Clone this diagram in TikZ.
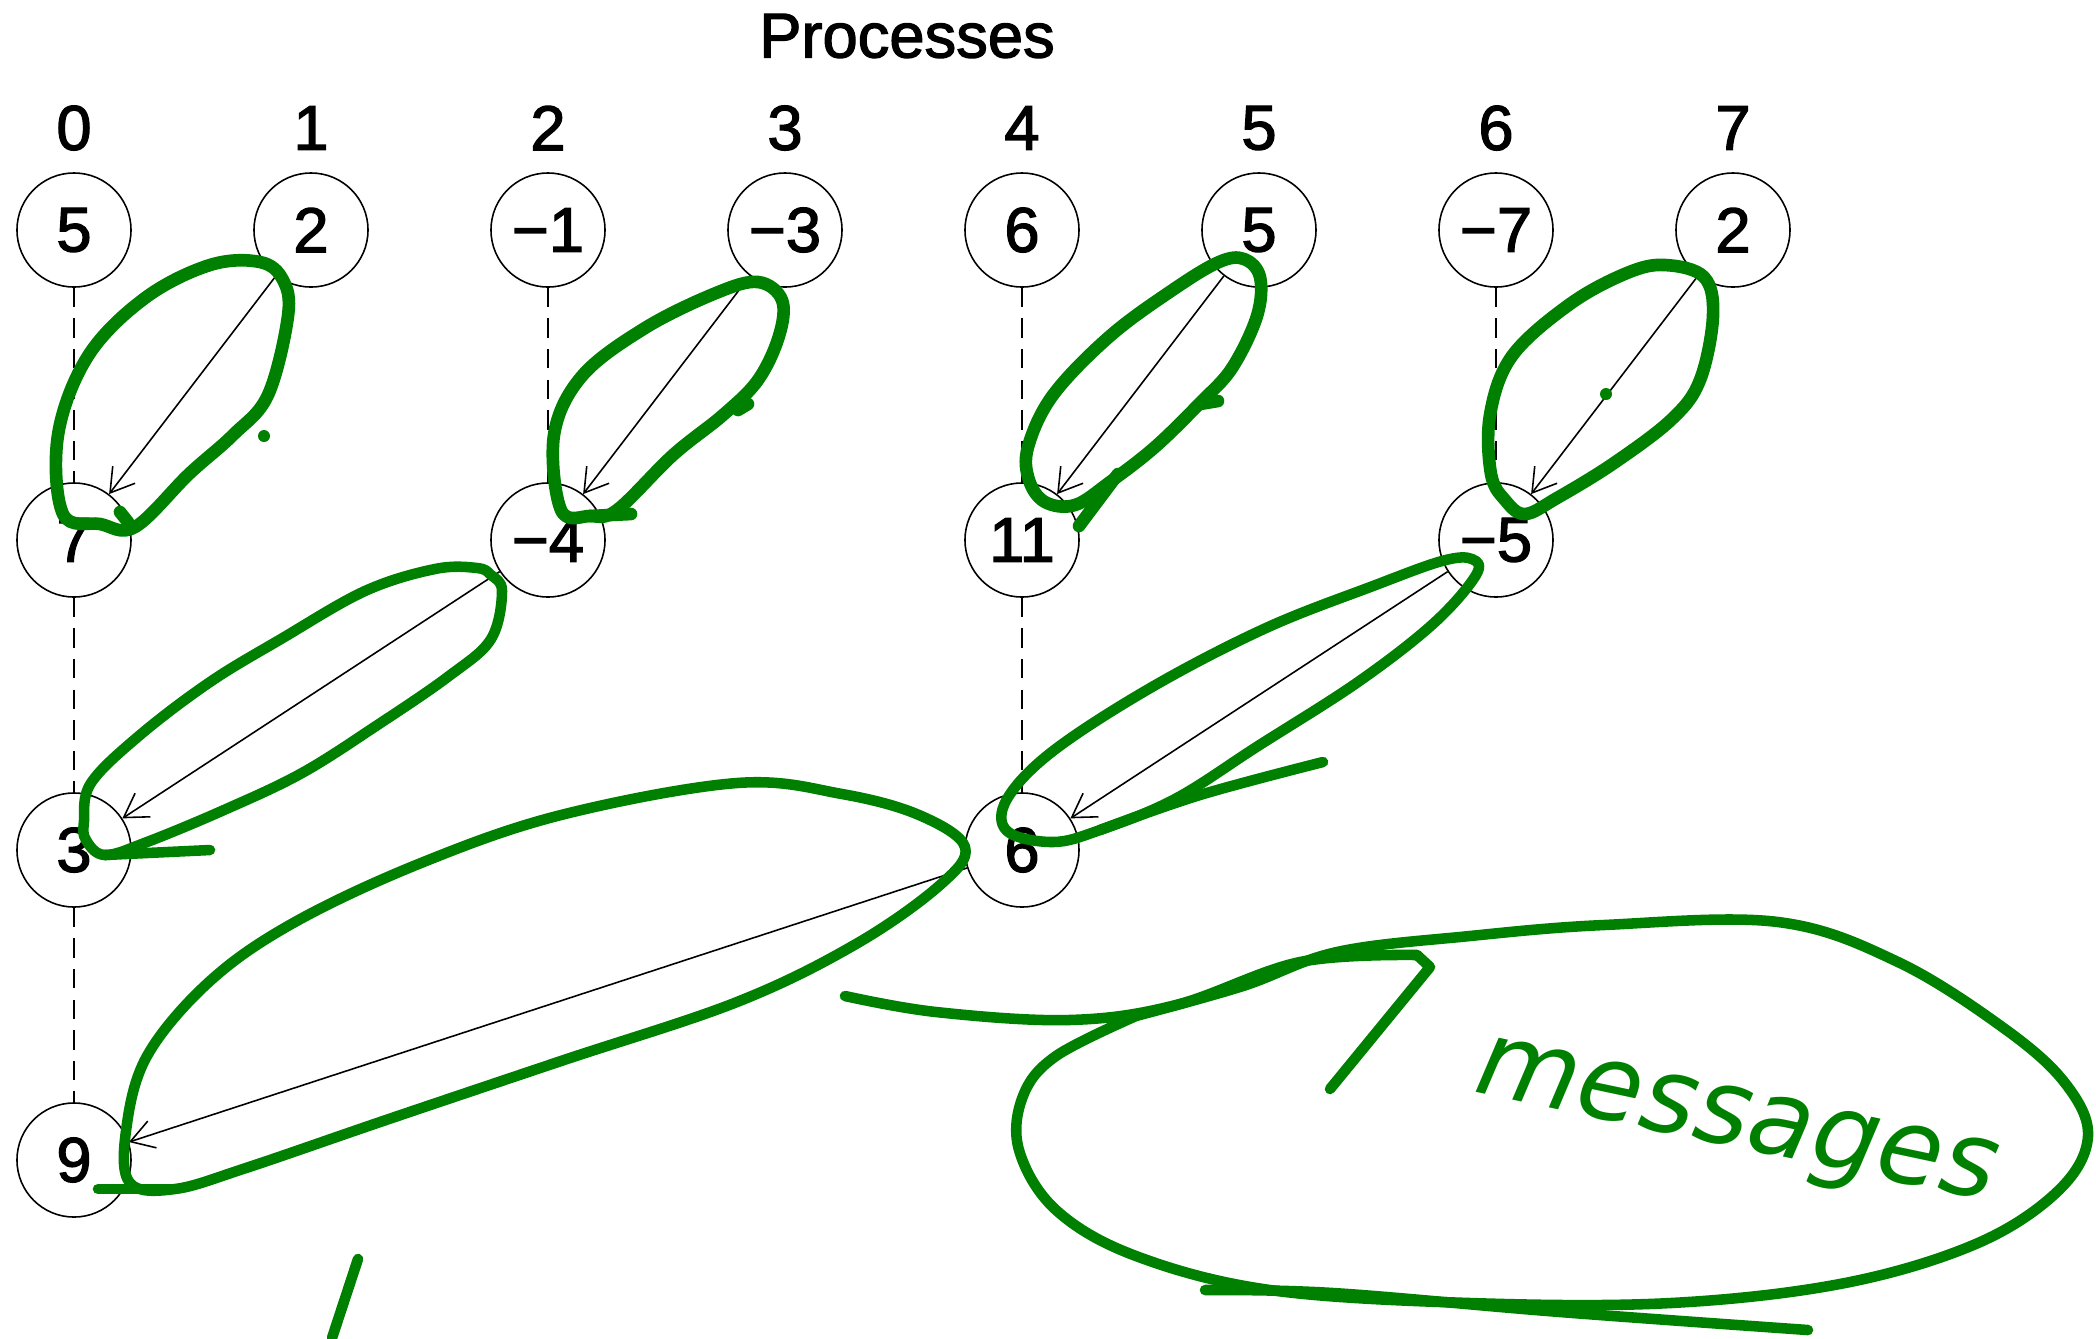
\documentclass[tikz,border=0pt]{standalone}
\usepackage{fontspec}
\setmainfont{Liberation Sans}
\newfontfamily\labfont{Liberation Sans}[FakeBold=2]
\newfontfamily\handfont{DejaVu Sans}
\usetikzlibrary{arrows.meta}
\definecolor{ink}{RGB}{0,128,0}
\begin{document}
\begin{tikzpicture}[x=0.01cm,y=-0.01cm,
  proc/.style={circle,draw,line width=0.45pt,minimum size=1.14cm,inner sep=0pt,font=\labfont\fontsize{18}{20}\selectfont},
  lbl/.style={font=\labfont\fontsize{18}{20}\selectfont,inner sep=0pt},
  wait/.style={line width=0.45pt,dash pattern=on 5.5pt off 3.2pt},
  msg/.style={line width=0.45pt,-{Straight Barb[length=6.5pt,width=8pt]}},
  hl/.style={draw=ink,line width=3.6pt,line cap=round,line join=round},
  hlthin/.style={draw=ink,line width=3pt,line cap=round,line join=round}]
\useasboundingbox (0,0) rectangle (2096,1338);
% title and process labels
\node[lbl] (title) at (907,36) {Processes};
\foreach \i in {0,...,7} {
  \node[lbl] (h\i) at ({74+237*\i},128) {\i};
}
% row 1
\node[proc] (a0) at (74,230) {5};
\node[proc] (a1) at (311,230) {2};
\node[proc] (a2) at (548,230) {−1};
\node[proc] (a3) at (785,230) {−3};
\node[proc] (a4) at (1022,230) {6};
\node[proc] (a5) at (1259,230) {5};
\node[proc] (a6) at (1496,230) {−7};
\node[proc] (a7) at (1733,230) {2};
% row 2
\node[proc] (b0) at (74,540) {7};
\node[proc] (b2) at (548,540) {−4};
\node[proc] (b4) at (1022,540) {11};
\node[proc] (b6) at (1496,540) {−5};
% row 3
\node[proc] (c0) at (74,850) {3};
\node[proc] (c4) at (1022,850) {6};
% row 4
\node[proc] (d0) at (74,1160) {9};
% dashed timelines
\draw[wait] (a0) -- (b0);
\draw[wait] (a2) -- (b2);
\draw[wait] (a4) -- (b4);
\draw[wait] (a6) -- (b6);
\draw[wait] (b0) -- (c0);
\draw[wait] (b4) -- (c4);
\draw[wait] (c0) -- (d0);
% messages
\draw[msg] (a1) -- (b0);
\draw[msg] (a3) -- (b2);
\draw[msg] (a5) -- (b4);
\draw[msg] (a7) -- (b6);
\draw[msg] (b2) -- (c0);
\draw[msg] (b6) -- (c4);
\draw[msg] (c4) -- (d0);
% green annotations
\draw[hl] plot[smooth cycle,tension=0.6] coordinates {(63,514) (58,435) (88,356) (145,298) (210,265) (260,262) (283,280) (288,316) (268,395) (233,435) (189,474) (135,527) (100,524)};
\draw[hl] (120,512) -- (128,522);
\fill[ink] (264,436) circle (6);
\draw[hl] plot[smooth cycle,tension=0.6] coordinates {(561,510) (554,435) (582,376) (645,328) (716,293) (758,282) (782,300) (779,336) (758,380) (723,415) (673,455) (617,510) (590,516)};
\draw[hl] (590,516) -- (631,514);
\draw[hl] (738,410) -- (748,404);
\draw[hl] plot[smooth cycle,tension=0.6] coordinates {(1219,262) (1244,259) (1260,277) (1257,316) (1232,368) (1200,403) (1155,447) (1110,482) (1075,505) (1045,502) (1029,480) (1028,447) (1053,395) (1110,336) (1174,289)};
\draw[hl] (1118,474) -- (1079,526);
\draw[hl] (1200,404) -- (1218,401);
\draw[hl] plot[smooth cycle,tension=0.6] coordinates {(1627,273) (1665,265) (1704,277) (1713,316) (1700,380) (1672,419) (1614,463) (1557,498) (1525,514) (1505,500) (1491,474) (1490,415) (1512,356) (1570,304)};
\fill[ink] (1606,394) circle (6);
\draw[hlthin] plot[smooth cycle,tension=0.6] coordinates {(477,568) (491,575) (502,591) (491,639) (449,676) (379,724) (302,773) (224,810) (147,842) (105,855) (86,840) (84,821) (91,783) (140,735) (210,682) (281,639) (365,591) (435,569)};
\draw[hlthin] (105,855) -- (210,850);
\draw[hlthin] plot[smooth cycle,tension=0.6] coordinates {(1442,561) (1472,559) (1476,575) (1434,623) (1358,682) (1258,746) (1175,799) (1100,830) (1053,842) (1007,831) (1007,799) (1053,751) (1152,687) (1266,628) (1373,586)};
\draw[hlthin] plot[smooth,tension=0.6] coordinates {(1100,830) (1200,795) (1323,762)};
\draw[hlthin] plot[smooth cycle,tension=0.6] coordinates {(130,1183) (126,1131) (147,1056) (210,981) (295,922) (421,863) (561,815) (737,783) (842,794) (919,815) (965,847) (940,885) (856,944) (737,1002) (561,1061) (386,1120) (246,1168) (175,1189)};
\draw[hlthin] (175,1189) -- (98,1189);
% tail into the big ellipse and hook
\draw[hlthin] plot[smooth,tension=0.6] coordinates {(845,996) (936,1012) (1069,1020) (1176,1005) (1300,962) (1417,955)};
\draw[hlthin] (1417,955) -- (1430,967) -- (1330,1089);
% big ellipse round the word
\draw[hlthin] plot[smooth,tension=0.6] coordinates {(1136,1016) (1243,986) (1337,952) (1470,936) (1604,925) (1778,922) (1898,962) (2005,1029) (2065,1083) (2088,1136) (2059,1190) (1978,1243) (1845,1283) (1671,1303) (1470,1303) (1270,1290) (1136,1256) (1056,1210) (1019,1150) (1023,1096) (1056,1056) (1136,1016)};
\draw[hlthin] plot[smooth,tension=0.6] coordinates {(1205,1290) (1333,1293) (1560,1312) (1808,1330)};
\node[text=ink,font=\handfont\itshape\fontsize{30}{32}\selectfont,rotate=-12,inner sep=0pt] (word) at (1735,1128) {messages};
% stray stroke at bottom left
\draw[hlthin] (358,1259) -- (332,1338);
\end{tikzpicture}
\end{document}
